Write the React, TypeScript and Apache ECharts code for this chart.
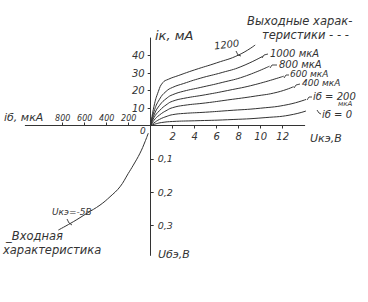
import React, { useEffect, useRef } from "react";
import * as echarts from "echarts";

// Axis tick values
const ukeTicks = [2, 4, 6, 8, 10, 12]; // Uкэ, В
const ikTicks = [10, 20, 30, 40]; // iк, мА
const ibTicks = [200, 400, 600, 800]; // iб, мкА
const ubeTicks = [0.1, 0.2, 0.3]; // Uбэ, В

// Output characteristics: [Uкэ (V), iк (mA)]
const ib1200 = [[0, 0], [0.3, 11], [0.7, 19.5], [1.1, 24.5], [1.6, 26.4], [2.5, 28.5], [4, 31.8], [6, 35.8], [8, 40.3], [9.5, 46]];
const ib1000 = [[0, 0], [0.3, 8], [0.8, 15], [1.4, 19.5], [2, 21.8], [3, 24], [4.5, 27], [6.5, 30.3], [8.2, 33.6], [10.2, 39.6]];
const ib800 = [[0, 0], [0.3, 6], [0.8, 11.5], [1.5, 15.8], [2, 17.6], [3, 19.6], [4.5, 21.7], [6.5, 24.6], [8.5, 28], [10.8, 33.9]];
const ib600 = [[0, 0], [0.3, 4.5], [0.8, 8.5], [1.5, 12.2], [2, 13.9], [3, 15.5], [5, 17.6], [7, 20], [9.5, 23.4], [12.1, 28.2]];
const ib400 = [[0, 0], [0.3, 3], [0.8, 6], [1.5, 8.8], [2, 10.2], [3, 11.5], [5, 12.9], [7, 14.6], [9.5, 16.8], [11.5, 19], [13, 22.2]];
const ib200 = [[0, 0], [0.3, 1.5], [0.8, 3.5], [1.5, 5.3], [2, 6.2], [3, 6.9], [5, 7.6], [7, 8.5], [10, 9.9], [12.5, 12], [14.3, 15.3]];
const ib0 = [[0, 0], [0.5, 1], [1, 1.7], [2, 2.3], [4, 2.7], [7, 3.3], [10.4, 4.5], [13, 6.4], [15, 10.3]];
const outputCurves = [ib0, ib200, ib400, ib600, ib800, ib1000, ib1200];

// Input characteristic at Uкэ = -5 В: [iб (µA), Uбэ (V)]
const inputCurve = [[22, 0.023], [52, 0.049], [97, 0.083], [158, 0.119], [204, 0.144], [279, 0.184], [370, 0.214], [461, 0.239], [582, 0.264], [704, 0.289], [840, 0.314]];

const FONT = '"DejaVu Sans", sans-serif';
const INK = "#333";

function font(size: number) {
  return `italic ${size}px ${FONT}`;
}

function txt(text: string, x: number, y: number, size: number, rotation = 0) {
  return {
    type: "text",
    x,
    y,
    rotation,
    silent: true,
    style: { text, font: font(size), fill: INK, verticalAlign: "middle", align: "left" },
  };
}

function hook(points: number[][]) {
  return {
    type: "polyline",
    silent: true,
    shape: { points },
    style: { stroke: INK, lineWidth: 0.9, fill: null },
  };
}

export default function App() {
  const ref = useRef<HTMLDivElement>(null);

  useEffect(() => {
    document.body.style.margin = "0";
    const chart = echarts.init(ref.current!, undefined, { renderer: "svg" });
    const axisLine = { show: true, onZero: false, lineStyle: { color: INK, width: 1 } };
    const labelStyle = { fontStyle: "italic", fontFamily: FONT, color: INK };

    const option: any = {
      animation: false,
      backgroundColor: "#fff",
      grid: [
        { left: 150.7, top: 38, width: 154, height: 87.5, outerBoundsMode: "none" },
        { left: 25.3, top: 125.5, width: 125.4, height: 129.9, outerBoundsMode: "none" },
      ],
      xAxis: [
        {
          gridIndex: 0, type: "value", min: 0, max: 14,
          axisLine,
          axisTick: { show: true, customValues: ukeTicks, length: 3, lineStyle: { color: INK } },
          axisLabel: { ...labelStyle, customValues: ukeTicks, fontSize: 10, margin: 6 },
          splitLine: { show: false },
        },
        {
          gridIndex: 1, type: "value", min: 0, max: 1140, inverse: true, position: "top",
          axisLine,
          axisTick: { show: true, customValues: ibTicks, length: 3, lineStyle: { color: INK } },
          axisLabel: { ...labelStyle, customValues: ibTicks, fontSize: 8, margin: 3 },
          splitLine: { show: false },
        },
      ],
      yAxis: [
        {
          gridIndex: 0, type: "value", min: 0, max: 50,
          axisLine,
          axisTick: { show: true, customValues: ikTicks, length: 3, lineStyle: { color: INK } },
          axisLabel: { ...labelStyle, customValues: ikTicks, fontSize: 10, margin: 6 },
          splitLine: { show: false },
        },
        {
          gridIndex: 1, type: "value", min: 0, max: 0.39, inverse: true, position: "right",
          axisLine,
          axisTick: { show: true, customValues: ubeTicks, length: 3, lineStyle: { color: INK } },
          axisLabel: {
            ...labelStyle, customValues: ubeTicks, fontSize: 9.5, margin: 7,
            formatter: (v: number) => v.toFixed(1).replace(".", ","),
          },
          splitLine: { show: false },
        },
      ],
      series: [
        ...outputCurves.map((d) => ({
          type: "line", xAxisIndex: 0, yAxisIndex: 0, data: d,
          smooth: 0.5, showSymbol: false, clip: false, silent: true,
          lineStyle: { color: INK, width: 1 },
        })),
        {
          type: "line", xAxisIndex: 1, yAxisIndex: 1, data: inputCurve,
          smooth: 0.4, showSymbol: false, clip: false, silent: true,
          lineStyle: { color: INK, width: 1 },
        },
      ],
      graphic: [
        txt("Выходные харак-", 247, 21, 11.5),
        txt("теристики - - -", 262, 35, 11.5),
        txt("iк, мА", 155, 35, 13),
        txt("1200", 214, 46, 10, 0.12),
        txt("1000 мкА", 270, 53, 10),
        txt("800 мкА", 279, 64, 10),
        txt("600 мкА", 290, 74, 9),
        txt("400 мкА", 302, 83, 9),
        txt("iб = 200", 313, 96, 10),
        txt("мкА", 338, 104, 7),
        txt("iб = 0", 322, 114, 10),
        txt("Uкэ,В", 310, 138, 11),
        txt("0", 140, 131, 9),
        txt("iб, мкА", 4, 117, 11),
        txt("Uбэ,В", 158, 254, 11),
        txt("Uкэ=-5В", 52, 212, 9),
        txt("_Входная", 6, 236, 11.5),
        txt("характеристика", 3, 250, 11.5),
        hook([[236, 51], [238, 55], [241, 56]]),
        hook([[262, 58], [264, 55], [268, 54]]),
        hook([[270, 68], [272, 65], [277, 65]]),
        hook([[284, 78], [286, 75], [289, 75]]),
        hook([[294, 88], [296, 85], [300, 84]]),
        hook([[307, 100], [309, 97], [312, 97]]),
        hook([[317, 110], [319, 113], [321, 114]]),
        hook([[67, 219], [69, 223], [72, 225]]),
      ],
    };
    chart.setOption(option);
    return () => chart.dispose();
  }, []);

  return <div ref={ref} style={{ width: 368, height: 302 }} />;
}
